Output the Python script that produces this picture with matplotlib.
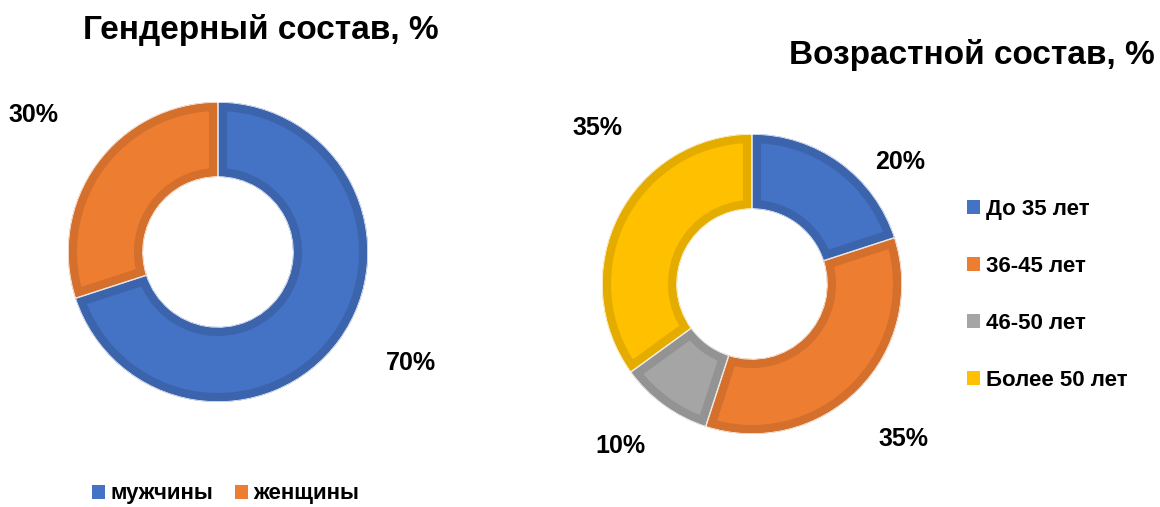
import matplotlib
matplotlib.use("Agg")
import matplotlib.pyplot as plt
from matplotlib.patches import Patch

plt.rcParams["font.family"] = ["Liberation Sans", "DejaVu Sans"]
plt.rcParams["font.weight"] = "bold"

# data
gender_labels = ["мужчины", "женщины"]
gender_values = [70, 30]
age_labels = ["До 35 лет", "36-45 лет", "46-50 лет", "Более 50 лет"]
age_values = [20, 35, 10, 35]

title_gender = "Гендерный состав, %"
title_age = "Возрастной состав, %"

# colours (fill, darker inner border)
fill_gender = ["#4472C4", "#ED7D31"]
edge_gender = ["#3B64AD", "#D46F2C"]
fill_age = ["#4472C4", "#ED7D31", "#A5A5A5", "#FFC000"]
edge_age = ["#3B64AD", "#D46F2C", "#939393", "#E5AC00"]

W, H = 1160, 507
R, RING = 150, 75

figure = plt.figure(figsize=(W / 100, H / 100), dpi=100)
ax = figure.add_axes([0, 0, 1, 1])


def donut(center, values, fills, edges, label_xy):
    wedges, _ = ax.pie(values, colors=fills, startangle=90, counterclock=False,
                       radius=R, center=center,
                       wedgeprops=dict(width=RING, linewidth=0))
    # border drawn inside each slice only (clip the wide stroke to the slice)
    for w, ec in zip(wedges, edges):
        w.set_edgecolor(ec)
        w.set_linewidth(13)
        w.set_clip_on(True)
        w.set_clip_path(w)
    # thin white separators
    seps, _ = ax.pie(values, colors=["none"] * len(values), startangle=90, counterclock=False,
                     radius=R, center=center,
                     wedgeprops=dict(width=RING, linewidth=1.0, edgecolor="white", facecolor="none"))
    for s in seps:
        s.set_clip_on(True)
        s.set_clip_path(s)
    for v, (dx, dy) in zip(values, label_xy):
        ax.text(center[0] + dx, center[1] + dy, f"{v}%", fontsize=18, fontweight="bold",
                ha="center", va="center", color="black")


# label offsets from the donut centre (pixels)
donut((218, H - 252), gender_values, fill_gender, edge_gender,
      [(193, -111), (-185, 137)])
donut((752, H - 284), age_values, fill_age, edge_age,
      [(148, 122), (151, -155), (-132, -162), (-155, 156)])

ax.text(261, H - 30, title_gender, fontsize=24, fontweight="bold", ha="center", va="center")
ax.text(972, H - 55, title_age, fontsize=24, fontweight="bold", ha="center", va="center")

leg1 = ax.legend([Patch(facecolor=c) for c in fill_gender], gender_labels,
                 loc="center left", bbox_to_anchor=(92, H - 494), bbox_transform=ax.transData,
                 ncol=2, frameon=False, fontsize=16, handlelength=0.6, handleheight=0.6,
                 handletextpad=0.25, columnspacing=0.95, borderpad=0, borderaxespad=0)
ax.add_artist(leg1)
ax.legend([Patch(facecolor=c) for c in fill_age], age_labels,
          loc="upper left", bbox_to_anchor=(967, H - 199), bbox_transform=ax.transData,
          frameon=False, fontsize=16, handlelength=0.6, handleheight=0.6,
          handletextpad=0.25, labelspacing=1.62, borderpad=0, borderaxespad=0)

ax.set_xlim(0, W)
ax.set_ylim(0, H)
ax.set_aspect("auto")
ax.axis("off")

figure.savefig("out.png", dpi=100)
